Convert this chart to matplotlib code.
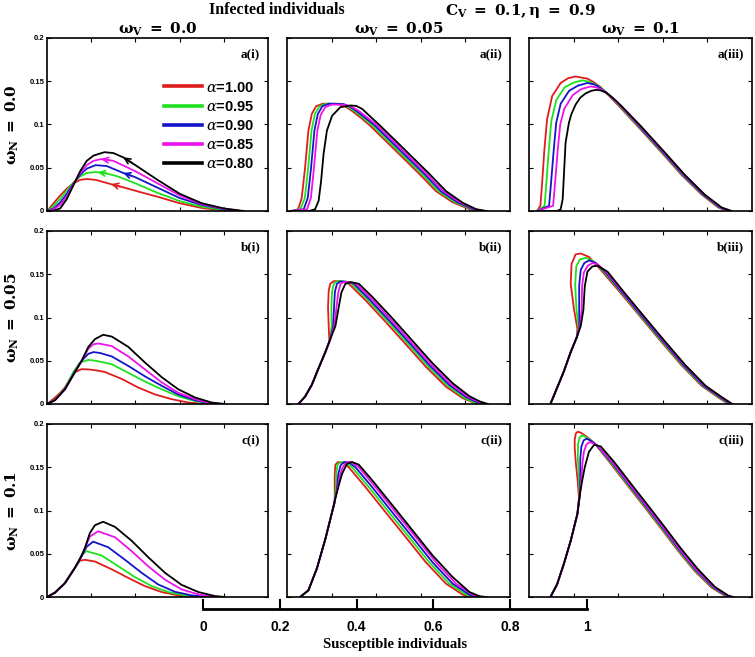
import matplotlib
matplotlib.use("Agg")
import matplotlib.pyplot as plt
import numpy as np

plt.rcParams['mathtext.fontset'] = 'dejavuserif'

# alpha values and colours
alphas = ["1.00", "0.95", "0.90", "0.85", "0.80"]
colors = ["#e01b1b", "#1ee01e", "#1414c8", "#ee12ee", "#000000"]

# ---- row a (omega_N = 0.0) ----
S_a1 = [[0, 0.03, 0.06, 0.09, 0.12, 0.15, 0.18, 0.22, 0.29, 0.35, 0.42, 0.5, 0.6, 0.7, 0.78, 0.84],
        [0, 0.03, 0.06, 0.09, 0.12, 0.15, 0.18, 0.22, 0.26, 0.32, 0.4, 0.5, 0.6, 0.7, 0.8, 0.86],
        [0, 0.03, 0.06, 0.09, 0.12, 0.15, 0.18, 0.22, 0.27, 0.345, 0.4, 0.5, 0.6, 0.7, 0.8, 0.87],
        [0, 0.03, 0.06, 0.09, 0.12, 0.15, 0.18, 0.21, 0.245, 0.3, 0.4, 0.5, 0.6, 0.7, 0.8, 0.88],
        [0, 0.03, 0.06, 0.09, 0.12, 0.15, 0.18, 0.21, 0.26, 0.30, 0.345, 0.4, 0.5, 0.6, 0.7, 0.8, 0.89]]
I_a1 = [[0, 0.009, 0.018, 0.026, 0.032, 0.036, 0.037, 0.036, 0.031, 0.027, 0.022, 0.0165, 0.009, 0.0035, 0.001, 0],
        [0, 0.006, 0.014, 0.024, 0.033, 0.040, 0.044, 0.045, 0.044, 0.040, 0.032, 0.021, 0.0115, 0.005, 0.001, 0],
        [0, 0.003, 0.010, 0.020, 0.032, 0.042, 0.049, 0.053, 0.052, 0.044, 0.039, 0.027, 0.015, 0.007, 0.002, 0],
        [0, 0.002, 0.007, 0.017, 0.031, 0.044, 0.053, 0.058, 0.060, 0.058, 0.046, 0.032, 0.018, 0.008, 0.0025, 0],
        [0, 0.0005, 0.003, 0.014, 0.030, 0.046, 0.058, 0.064, 0.068, 0.067, 0.062, 0.053, 0.036, 0.020, 0.009, 0.003, 0]]
arrow_S_a1 = [0.29, 0.23, 0.345, 0.245, 0.345]

S_a2 = [[0.02, 0.05, 0.066, 0.081, 0.096, 0.111, 0.13, 0.16, 0.20, 0.23, 0.26, 0.29, 0.33, 0.367, 0.443, 0.518, 0.593, 0.668, 0.743, 0.819, 0.864],
        [0.02, 0.06, 0.08, 0.095, 0.11, 0.125, 0.145, 0.175, 0.215, 0.245, 0.27, 0.30, 0.34, 0.378, 0.454, 0.529, 0.604, 0.679, 0.754, 0.827, 0.874],
        [0.02, 0.075, 0.093, 0.108, 0.123, 0.138, 0.158, 0.188, 0.225, 0.255, 0.28, 0.31, 0.35, 0.389, 0.465, 0.540, 0.615, 0.690, 0.765, 0.835, 0.881],
        [0.02, 0.09, 0.107, 0.121, 0.136, 0.151, 0.171, 0.200, 0.235, 0.265, 0.29, 0.32, 0.36, 0.400, 0.476, 0.551, 0.626, 0.701, 0.776, 0.842, 0.888],
        [0.02, 0.10, 0.126, 0.142, 0.153, 0.164, 0.179, 0.202, 0.239, 0.284, 0.31, 0.337, 0.37, 0.412, 0.488, 0.563, 0.638, 0.713, 0.788, 0.849, 0.894]]
I_a2 = [[0, 0.002, 0.015, 0.050, 0.093, 0.112, 0.121, 0.124, 0.124, 0.1235, 0.121, 0.116, 0.108, 0.100, 0.081, 0.062, 0.043, 0.023, 0.010, 0.002, 0],
        [0, 0.002, 0.015, 0.050, 0.093, 0.112, 0.121, 0.124, 0.124, 0.1235, 0.121, 0.116, 0.108, 0.100, 0.081, 0.062, 0.043, 0.023, 0.010, 0.002, 0],
        [0, 0.002, 0.015, 0.050, 0.093, 0.112, 0.121, 0.124, 0.124, 0.1235, 0.121, 0.116, 0.108, 0.100, 0.081, 0.062, 0.043, 0.023, 0.010, 0.002, 0],
        [0, 0.002, 0.015, 0.050, 0.093, 0.111, 0.120, 0.123, 0.123, 0.1225, 0.1205, 0.116, 0.108, 0.100, 0.081, 0.062, 0.043, 0.023, 0.010, 0.002, 0],
        [0, 0, 0.002, 0.012, 0.035, 0.066, 0.093, 0.110, 0.120, 0.122, 0.1215, 0.118, 0.110, 0.100, 0.081, 0.062, 0.043, 0.023, 0.0095, 0.002, 0]]

S_a3 = [[0.036, 0.051, 0.059, 0.069, 0.081, 0.104, 0.142, 0.175, 0.209, 0.262, 0.29, 0.322, 0.36, 0.397, 0.487, 0.593, 0.683, 0.774, 0.849, 0.894],
        [0.036, 0.07, 0.078, 0.089, 0.10, 0.122, 0.16, 0.2, 0.239, 0.27, 0.30, 0.33, 0.36, 0.40, 0.49, 0.596, 0.686, 0.777, 0.853, 0.898],
        [0.036, 0.09, 0.099, 0.111, 0.122, 0.142, 0.18, 0.22, 0.262, 0.29, 0.31, 0.335, 0.36, 0.405, 0.494, 0.600, 0.690, 0.781, 0.856, 0.901],
        [0.036, 0.108, 0.117, 0.129, 0.14, 0.158, 0.196, 0.235, 0.277, 0.30, 0.32, 0.34, 0.36, 0.408, 0.498, 0.604, 0.694, 0.785, 0.860, 0.905],
        [0.036, 0.126, 0.142, 0.151, 0.157, 0.164, 0.179, 0.19, 0.209, 0.23, 0.254, 0.28, 0.300, 0.32, 0.345, 0.375, 0.412, 0.502, 0.608, 0.698, 0.788, 0.864, 0.909]]
I_a3 = [[0, 0.006, 0.033, 0.071, 0.106, 0.133, 0.148, 0.1535, 0.1555, 0.153, 0.149, 0.143, 0.133, 0.123, 0.098, 0.068, 0.042, 0.019, 0.004, 0],
        [0, 0.006, 0.033, 0.071, 0.104, 0.128, 0.143, 0.1485, 0.151, 0.1495, 0.146, 0.141, 0.134, 0.123, 0.098, 0.068, 0.042, 0.019, 0.004, 0],
        [0, 0.006, 0.033, 0.071, 0.102, 0.124, 0.139, 0.145, 0.148, 0.1465, 0.144, 0.139, 0.134, 0.123, 0.098, 0.068, 0.042, 0.019, 0.004, 0],
        [0, 0.006, 0.033, 0.071, 0.100, 0.118, 0.134, 0.141, 0.144, 0.143, 0.141, 0.138, 0.134, 0.122, 0.098, 0.068, 0.042, 0.019, 0.004, 0],
        [0, 0, 0.002, 0.0136, 0.044, 0.079, 0.102, 0.112, 0.123, 0.131, 0.136, 0.139, 0.140, 0.1395, 0.137, 0.131, 0.122, 0.098, 0.068, 0.042, 0.019, 0.004, 0]]

# ---- row b (omega_N = 0.05) ----
S_b1 = [[0, 0.036, 0.06, 0.081, 0.104, 0.127, 0.157, 0.187, 0.22, 0.262, 0.338, 0.413, 0.489, 0.564, 0.639, 0.715],
        [0, 0.036, 0.081, 0.119, 0.149, 0.187, 0.22, 0.293, 0.368, 0.443, 0.519, 0.594, 0.67, 0.745, 0.78],
        [0, 0.036, 0.081, 0.125, 0.157, 0.187, 0.21, 0.24, 0.293, 0.368, 0.443, 0.519, 0.594, 0.67, 0.745, 0.79],
        [0, 0.036, 0.081, 0.127, 0.157, 0.187, 0.21, 0.232, 0.293, 0.368, 0.443, 0.519, 0.594, 0.67, 0.745, 0.8],
        [0, 0.036, 0.081, 0.127, 0.157, 0.187, 0.217, 0.254, 0.293, 0.368, 0.443, 0.519, 0.594, 0.67, 0.745, 0.805]]
I_b1 = [[0, 0.0073, 0.013, 0.019, 0.029, 0.037, 0.0403, 0.040, 0.039, 0.037, 0.029, 0.019, 0.011, 0.0056, 0.0017, 0],
        [0, 0.005, 0.018, 0.037, 0.048, 0.051, 0.050, 0.046, 0.036, 0.026, 0.017, 0.009, 0.0033, 0.0006, 0],
        [0, 0.0045, 0.017, 0.037, 0.050, 0.058, 0.060, 0.059, 0.055, 0.044, 0.032, 0.021, 0.011, 0.0043, 0.0006, 0],
        [0, 0.0044, 0.017, 0.037, 0.050, 0.064, 0.069, 0.070, 0.067, 0.055, 0.040, 0.025, 0.013, 0.0056, 0.0006, 0],
        [0, 0.0043, 0.017, 0.037, 0.050, 0.066, 0.075, 0.080, 0.078, 0.066, 0.048, 0.031, 0.017, 0.0075, 0.0017, 0]]

S_b2 = [[0.051, 0.081, 0.111, 0.141, 0.172, 0.19, 0.187, 0.184, 0.187, 0.194, 0.209, 0.239, 0.277, 0.352, 0.442, 0.533, 0.623, 0.713, 0.788, 0.834, 0.864],
        [0.051, 0.081, 0.111, 0.141, 0.172, 0.194, 0.2, 0.199, 0.202, 0.21, 0.225, 0.252, 0.29, 0.36, 0.451, 0.541, 0.631, 0.721, 0.796, 0.840, 0.873],
        [0.051, 0.081, 0.111, 0.141, 0.172, 0.194, 0.207, 0.211, 0.215, 0.224, 0.238, 0.263, 0.30, 0.366, 0.457, 0.548, 0.638, 0.728, 0.803, 0.848, 0.882],
        [0.051, 0.081, 0.111, 0.141, 0.172, 0.194, 0.212, 0.222, 0.23, 0.24, 0.255, 0.275, 0.31, 0.374, 0.465, 0.555, 0.645, 0.735, 0.81, 0.856, 0.891],
        [0.051, 0.081, 0.111, 0.141, 0.172, 0.194, 0.217, 0.232, 0.244, 0.262, 0.284, 0.322, 0.382, 0.473, 0.563, 0.653, 0.743, 0.818, 0.864, 0.901]]
I_b2 = [[0, 0.0085, 0.022, 0.041, 0.060, 0.072, 0.090, 0.112, 0.131, 0.139, 0.142, 0.142, 0.139, 0.120, 0.095, 0.069, 0.043, 0.020, 0.0068, 0.002, 0],
        [0, 0.0085, 0.022, 0.041, 0.060, 0.075, 0.090, 0.112, 0.130, 0.139, 0.142, 0.142, 0.139, 0.121, 0.096, 0.070, 0.044, 0.021, 0.007, 0.002, 0],
        [0, 0.0085, 0.022, 0.041, 0.060, 0.075, 0.090, 0.112, 0.130, 0.139, 0.1415, 0.1415, 0.139, 0.122, 0.097, 0.071, 0.045, 0.022, 0.008, 0.0025, 0],
        [0, 0.0085, 0.022, 0.041, 0.060, 0.075, 0.090, 0.112, 0.129, 0.139, 0.141, 0.141, 0.139, 0.123, 0.098, 0.072, 0.046, 0.023, 0.0085, 0.0028, 0],
        [0, 0.0085, 0.022, 0.041, 0.060, 0.075, 0.090, 0.112, 0.129, 0.139, 0.141, 0.139, 0.124, 0.099, 0.073, 0.047, 0.024, 0.009, 0.003, 0]]

S_b3 = [[0.096, 0.126, 0.156, 0.187, 0.214, 0.217, 0.202, 0.187, 0.191, 0.209, 0.232, 0.269, 0.322, 0.412, 0.502, 0.593, 0.683, 0.774, 0.849, 0.894],
        [0.096, 0.126, 0.156, 0.187, 0.214, 0.222, 0.213, 0.207, 0.212, 0.228, 0.255, 0.29, 0.335, 0.417, 0.506, 0.597, 0.687, 0.778, 0.853, 0.898],
        [0.096, 0.126, 0.156, 0.187, 0.214, 0.226, 0.225, 0.225, 0.232, 0.248, 0.27, 0.30, 0.34, 0.421, 0.511, 0.602, 0.692, 0.783, 0.858, 0.903],
        [0.096, 0.126, 0.156, 0.187, 0.214, 0.229, 0.236, 0.238, 0.246, 0.264, 0.285, 0.31, 0.345, 0.426, 0.516, 0.607, 0.697, 0.788, 0.863, 0.908],
        [0.096, 0.126, 0.156, 0.187, 0.214, 0.232, 0.244, 0.250, 0.262, 0.284, 0.307, 0.352, 0.430, 0.520, 0.611, 0.701, 0.792, 0.867, 0.912]]
I_b3 = [[0, 0.0187, 0.0375, 0.060, 0.077, 0.087, 0.109, 0.139, 0.162, 0.173, 0.174, 0.170, 0.155, 0.128, 0.100, 0.072, 0.045, 0.021, 0.0075, 0],
        [0, 0.0187, 0.0375, 0.060, 0.077, 0.088, 0.109, 0.138, 0.159, 0.167, 0.169, 0.165, 0.153, 0.128, 0.100, 0.072, 0.045, 0.021, 0.0075, 0],
        [0, 0.0187, 0.0375, 0.060, 0.077, 0.089, 0.109, 0.137, 0.155, 0.163, 0.166, 0.163, 0.153, 0.128, 0.100, 0.072, 0.045, 0.021, 0.0075, 0],
        [0, 0.0187, 0.0375, 0.060, 0.077, 0.090, 0.109, 0.136, 0.152, 0.160, 0.163, 0.161, 0.153, 0.128, 0.100, 0.072, 0.045, 0.021, 0.0075, 0],
        [0, 0.0187, 0.0375, 0.060, 0.077, 0.090, 0.109, 0.136, 0.153, 0.159, 0.160, 0.153, 0.128, 0.100, 0.072, 0.045, 0.021, 0.0075, 0]]

# ---- row c (omega_N = 0.1) ----
S_c1 = [[0, 0.036, 0.081, 0.127, 0.149, 0.172, 0.217, 0.293, 0.368, 0.443, 0.519, 0.594, 0.67],
        [0, 0.036, 0.081, 0.127, 0.142, 0.157, 0.179, 0.247, 0.323, 0.398, 0.474, 0.549, 0.624, 0.7],
        [0, 0.036, 0.081, 0.127, 0.157, 0.179, 0.209, 0.277, 0.353, 0.428, 0.503, 0.579, 0.654, 0.73],
        [0, 0.036, 0.081, 0.127, 0.157, 0.172, 0.194, 0.232, 0.308, 0.383, 0.458, 0.534, 0.609, 0.685, 0.76],
        [0, 0.036, 0.081, 0.127, 0.157, 0.172, 0.194, 0.217, 0.254, 0.308, 0.383, 0.458, 0.534, 0.609, 0.685, 0.76, 0.805]]
I_c1 = [[0, 0.005, 0.016, 0.034, 0.042, 0.043, 0.041, 0.032, 0.022, 0.0126, 0.0057, 0.0019, 0],
        [0, 0.005, 0.016, 0.034, 0.040, 0.049, 0.053, 0.048, 0.0355, 0.023, 0.0126, 0.0057, 0.0019, 0],
        [0, 0.005, 0.016, 0.034, 0.047, 0.058, 0.064, 0.0575, 0.043, 0.028, 0.0145, 0.006, 0.0019, 0],
        [0, 0.005, 0.016, 0.034, 0.048, 0.0565, 0.070, 0.076, 0.069, 0.053, 0.0355, 0.020, 0.0088, 0.003, 0],
        [0, 0.005, 0.016, 0.034, 0.048, 0.057, 0.074, 0.083, 0.087, 0.081, 0.065, 0.046, 0.028, 0.014, 0.0057, 0.0011, 0]]

S_c2 = [[0.059, 0.096, 0.134, 0.172, 0.202, 0.214, 0.214, 0.217, 0.229, 0.254, 0.277, 0.352, 0.442, 0.533, 0.623, 0.713, 0.788, 0.826],
        [0.059, 0.096, 0.134, 0.172, 0.202, 0.21, 0.219, 0.221, 0.226, 0.240, 0.265, 0.292, 0.367, 0.457, 0.548, 0.638, 0.728, 0.803, 0.841],
        [0.059, 0.096, 0.134, 0.172, 0.202, 0.212, 0.224, 0.23, 0.24, 0.255, 0.275, 0.307, 0.382, 0.472, 0.563, 0.653, 0.743, 0.818, 0.856],
        [0.059, 0.096, 0.134, 0.172, 0.202, 0.213, 0.228, 0.238, 0.252, 0.27, 0.29, 0.322, 0.397, 0.487, 0.578, 0.668, 0.758, 0.833, 0.871],
        [0.059, 0.096, 0.134, 0.172, 0.202, 0.217, 0.232, 0.247, 0.269, 0.292, 0.322, 0.382, 0.473, 0.563, 0.653, 0.743, 0.818, 0.864, 0.894]]
I_c2 = [[0, 0.0077, 0.033, 0.067, 0.098, 0.109, 0.1405, 0.153, 0.156, 0.155, 0.150, 0.127, 0.098, 0.069, 0.040, 0.0154, 0.0027, 0],
        [0, 0.0077, 0.033, 0.067, 0.098, 0.106, 0.125, 0.143, 0.153, 0.156, 0.155, 0.150, 0.127, 0.098, 0.069, 0.040, 0.0154, 0.0027, 0],
        [0, 0.0077, 0.033, 0.067, 0.098, 0.108, 0.125, 0.142, 0.152, 0.156, 0.156, 0.150, 0.127, 0.098, 0.069, 0.040, 0.0154, 0.0027, 0],
        [0, 0.0077, 0.033, 0.067, 0.098, 0.11, 0.127, 0.142, 0.151, 0.156, 0.156, 0.150, 0.127, 0.098, 0.069, 0.040, 0.0154, 0.0027, 0],
        [0, 0.0077, 0.033, 0.067, 0.098, 0.114, 0.129, 0.1425, 0.154, 0.156, 0.153, 0.135, 0.106, 0.077, 0.048, 0.023, 0.0058, 0.0008, 0]]

S_c3 = [[0.096, 0.126, 0.156, 0.187, 0.217, 0.224, 0.218, 0.210, 0.205, 0.205, 0.21, 0.218, 0.232, 0.255, 0.293, 0.367, 0.442, 0.518, 0.593, 0.668, 0.743, 0.818, 0.879, 0.894],
        [0.096, 0.126, 0.156, 0.187, 0.217, 0.227, 0.223, 0.219, 0.22, 0.228, 0.24, 0.26, 0.297, 0.371, 0.446, 0.522, 0.597, 0.672, 0.747, 0.822, 0.883, 0.899],
        [0.096, 0.126, 0.156, 0.187, 0.217, 0.229, 0.23, 0.23, 0.235, 0.245, 0.258, 0.275, 0.302, 0.376, 0.451, 0.527, 0.602, 0.677, 0.752, 0.827, 0.888, 0.905],
        [0.096, 0.126, 0.156, 0.187, 0.217, 0.229, 0.234, 0.24, 0.246, 0.257, 0.27, 0.285, 0.307, 0.38, 0.455, 0.531, 0.606, 0.681, 0.756, 0.831, 0.892, 0.91],
        [0.096, 0.126, 0.156, 0.187, 0.217, 0.229, 0.239, 0.25, 0.269, 0.292, 0.322, 0.382, 0.457, 0.533, 0.608, 0.683, 0.758, 0.834, 0.894, 0.916]]
I_c3 = [[0, 0.0147, 0.038, 0.065, 0.096, 0.115, 0.135, 0.155, 0.172, 0.182, 0.189, 0.191, 0.190, 0.186, 0.178, 0.154, 0.129, 0.104, 0.079, 0.0535, 0.030, 0.011, 0.0012, 0],
        [0, 0.0147, 0.038, 0.065, 0.096, 0.118, 0.14, 0.162, 0.177, 0.185, 0.187, 0.184, 0.177, 0.154, 0.129, 0.104, 0.079, 0.0535, 0.030, 0.011, 0.0012, 0],
        [0, 0.0147, 0.038, 0.065, 0.096, 0.12, 0.14, 0.16, 0.174, 0.181, 0.183, 0.181, 0.176, 0.154, 0.129, 0.104, 0.079, 0.0535, 0.030, 0.011, 0.0012, 0],
        [0, 0.0147, 0.038, 0.065, 0.096, 0.12, 0.135, 0.155, 0.168, 0.176, 0.179, 0.178, 0.175, 0.154, 0.129, 0.104, 0.079, 0.0535, 0.030, 0.011, 0.0012, 0],
        [0, 0.0147, 0.038, 0.065, 0.096, 0.12, 0.135, 0.150, 0.168, 0.176, 0.174, 0.156, 0.131, 0.106, 0.081, 0.0555, 0.032, 0.0116, 0.0016, 0]]

panels = [[(S_a1, I_a1), (S_a2, I_a2), (S_a3, I_a3)],
          [(S_b1, I_b1), (S_b2, I_b2), (S_b3, I_b3)],
          [(S_c1, I_c1), (S_c2, I_c2), (S_c3, I_c3)]]
row_names = ["a", "b", "c"]
roman = ["i", "ii", "iii"]
col_titles = [r"$\mathbf{\omega_V\ =\ 0.0}$", r"$\mathbf{\omega_V\ =\ 0.05}$", r"$\mathbf{\omega_V\ =\ 0.1}$"]
row_titles = [r"$\mathbf{\omega_N\ =\ 0.0}$", r"$\mathbf{\omega_N\ =\ 0.05}$", r"$\mathbf{\omega_N\ =\ 0.1}$"]
yticks = [0, 0.05, 0.1, 0.15, 0.2]
ytick_labels = ["0", "0.05", "0.1", "0.15", "0.2"]
bottom_ticks = [0, 0.2, 0.4, 0.6, 0.8, 1]
bottom_labels = ["0", "0.2", "0.4", "0.6", "0.8", "1"]

W, H = 755, 657
fig = plt.figure(figsize=(W / 100, H / 100), dpi=100)

col_left = [47, 287, 529]
col_w = [221, 223, 223]
row_top = [38, 231, 424]
row_h = 173

for r in range(3):
    for c in range(3):
        ax = fig.add_axes([col_left[c] / W, 1 - (row_top[r] + row_h) / H, col_w[c] / W, row_h / H])
        S_list, I_list = panels[r][c]
        for k in range(5):
            ax.plot(S_list[k], I_list[k], color=colors[k], lw=1.3,
                    label=r"$\alpha$=" + alphas[k])
        ax.set_xlim(0, 1)
        ax.set_ylim(0, 0.2)
        ax.set_xticks([0.2, 0.4, 0.6, 0.8])
        ax.set_xticklabels([])
        ax.set_yticks(yticks)
        if c == 0:
            ax.set_yticklabels(ytick_labels, fontsize=5.5, fontweight='bold', family='Liberation Sans')
        else:
            ax.set_yticklabels([])
        ax.tick_params(direction='in', top=True, right=True, length=3, width=0.8, pad=2)
        for sp in ax.spines.values():
            sp.set_linewidth(1.2)
        ax.text(0.965, 0.94, row_names[r] + "(" + roman[c] + ")", transform=ax.transAxes,
                ha='right', va='top', fontsize=9.5, fontweight='bold', family='Liberation Serif')
        if r == 0:
            ax.set_title(col_titles[c], fontsize=11, pad=3)
        if c == 0:
            ax.set_ylabel(row_titles[r], fontsize=11, labelpad=6)
        if r == 0 and c == 0:
            leg = ax.legend(loc='upper right', bbox_to_anchor=(1.0, 0.83), frameon=False,
                            handlelength=2.6, handletextpad=0.3, labelspacing=0.35,
                            prop={'weight': 'bold', 'size': 10.5, 'family': 'Liberation Sans'})
            for h in leg.get_lines():
                h.set_linewidth(2.6)
            # direction arrows
            for k in range(5):
                s0 = arrow_S_a1[k]
                x1 = s0 + 0.04
                y0 = np.interp(s0, S_list[k], I_list[k])
                y1 = np.interp(x1, S_list[k], I_list[k])
                ax.annotate('', xy=(s0, y0), xytext=(x1, y1),
                            arrowprops=dict(arrowstyle='->', color=colors[k], lw=1.2,
                                            mutation_scale=10, shrinkA=0, shrinkB=0))

# shared susceptible axis below the grid
bx = fig.add_axes([203 / W, 1 - 609 / H, 384 / W, 0.0001])
bx.set_facecolor('none')
for side in ['top', 'left', 'right']:
    bx.spines[side].set_visible(False)
bx.spines['bottom'].set_linewidth(2)
bx.set_xlim(0, 1)
bx.set_yticks([])
bx.set_xticks(bottom_ticks)
bx.set_xticklabels(bottom_labels, fontsize=10, fontweight='bold', family='Liberation Sans')
bx.tick_params(axis='x', direction='in', length=7, width=1.5, pad=8)
bx.set_xlabel("Susceptible individuals", fontsize=10.5, fontweight='bold',
              family='Liberation Serif', labelpad=3)

fig.text(277 / W, 1 - 10 / H, "Infected individuals", ha='center', va='center',
         fontsize=11.5, fontweight='bold', family='Liberation Serif')
fig.text(520 / W, 1 - 11 / H, r"$\mathbf{C_V\ =\ 0.1, \eta\ =\ 0.9}$", ha='center', va='center',
         fontsize=11)

fig.savefig("out.png", dpi=100)
